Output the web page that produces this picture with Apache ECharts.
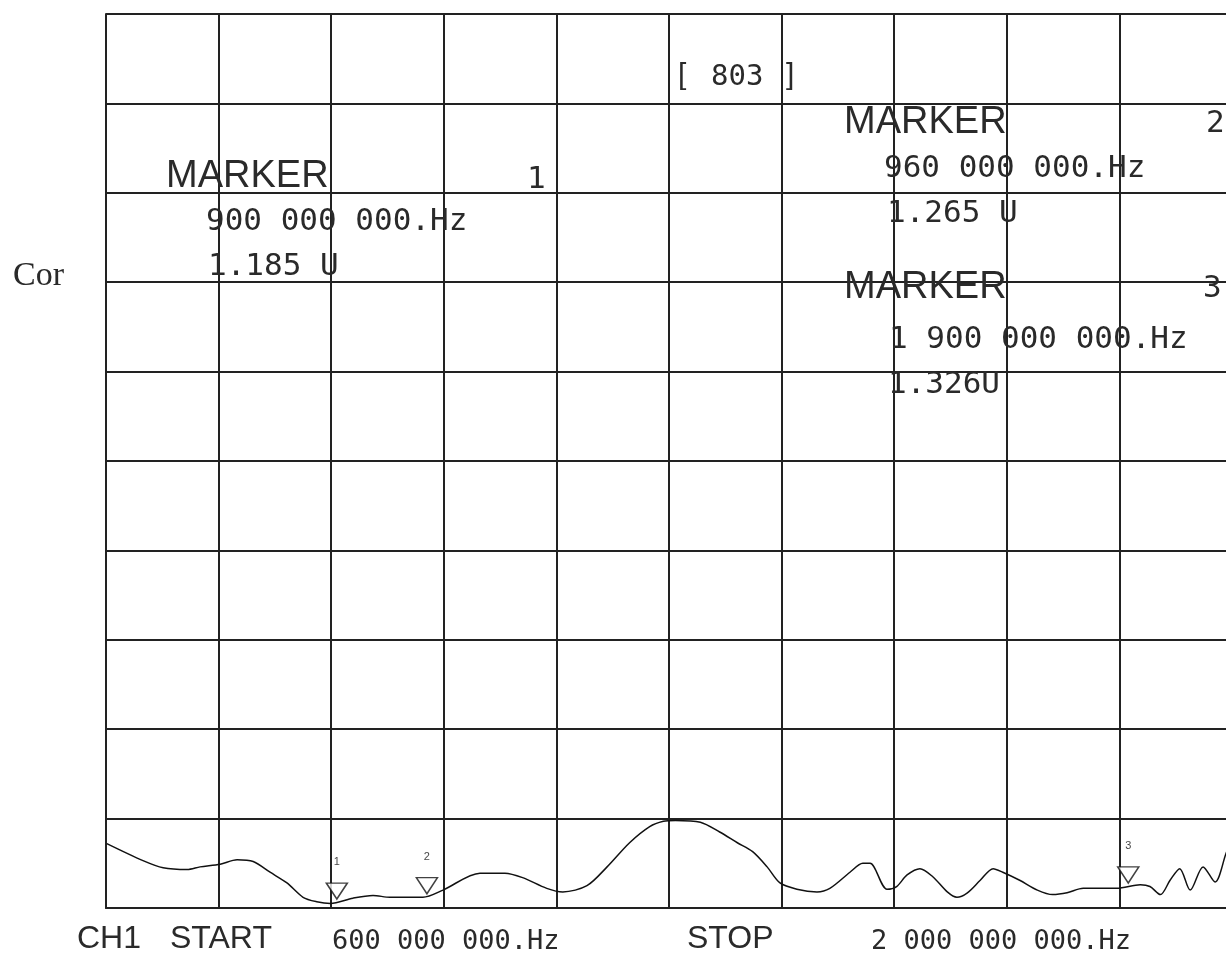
<!DOCTYPE html>
<html>
<head>
<meta charset="utf-8">
<script src="https://cdn.jsdelivr.net/npm/echarts@6/dist/echarts.min.js"></script>
<style>
  html, body { margin: 0; padding: 0; background: #fff; overflow: hidden; }
  /* the screen grid runs a few pixels past the right edge of the window */
  #main { width: 1240px; height: 955px; }
</style>
</head>
<body>
<div id="main"></div>
<script>
// frequency in MHz, trace level in grid divisions above the bottom line
var freqs = [601, 646, 671, 701, 717, 742, 763, 783, 804, 825, 845, 862, 879, 907, 932, 953,
    994, 1019, 1065, 1096, 1118, 1148, 1168, 1198, 1223, 1251, 1276, 1293, 1308, 1339, 1363,
    1385, 1404, 1422, 1438, 1459, 1484, 1500, 1525, 1541, 1550, 1571, 1583, 1596, 1612, 1628,
    1646, 1658, 1671, 1687, 1703, 1715, 1736, 1758, 1777, 1795, 1815, 1857, 1886, 1898, 1911,
    1923, 1935, 1948, 1964, 1979, 1993, 2000]
var levels = [0.72, 0.53, 0.45, 0.43, 0.46, 0.49, 0.54, 0.52, 0.40, 0.28, 0.12, 0.07, 0.05, 0.11, 0.14, 0.12,
    0.12, 0.20, 0.39, 0.39, 0.34, 0.22, 0.18, 0.25, 0.46, 0.73, 0.91, 0.97, 0.98, 0.96, 0.85,
    0.73, 0.63, 0.46, 0.28, 0.21, 0.18, 0.22, 0.40, 0.50, 0.50, 0.21, 0.24, 0.37, 0.44, 0.35,
    0.18, 0.12, 0.17, 0.31, 0.44, 0.40, 0.31, 0.20, 0.15, 0.17, 0.22, 0.22, 0.26, 0.24, 0.15,
    0.31, 0.44, 0.20, 0.46, 0.29, 0.62, 0.75]

// marker triangles, where they sit on the screen
var markerNames = ['1', '2', '3']
var markerFreqs = [887, 999, 1871]
var markerLevels = [0.10, 0.16, 0.28]

var traceData = []
for (var i = 0; i < freqs.length; i++) {
    traceData.push([freqs[i], levels[i]])
}
var markerData = []
for (var i = 0; i < markerFreqs.length; i++) {
    markerData.push({ value: [markerFreqs[i], markerLevels[i]], name: markerNames[i] })
}

var sans = '"Liberation Sans", Arial, sans-serif'
var mono = '"DejaVu Sans Mono", monospace'
var serif = '"Liberation Serif", serif'
var ink = '#2a2a2a'

// text placed by its left edge and vertical middle
function txt(x, y, s, size, family) {
    return {
        type: 'text', x: x, y: y, z: 10,
        style: {
            text: s, font: size + 'px ' + family, fill: ink,
            verticalAlign: 'middle', align: 'left'
        }
    }
}

var myChart = echarts.init(document.getElementById('main'))
var option = {
    backgroundColor: '#fff',
    animation: false,
    grid: { left: 106, top: 14, width: 1126, height: 894 },
    xAxis: {
        type: 'value', min: 600, max: 2000, interval: 140,
        axisLine: { show: true, lineStyle: { color: '#222', width: 2 } },
        axisTick: { show: false }, axisLabel: { show: false },
        splitLine: { show: true, lineStyle: { color: '#222', width: 2 } }
    },
    yAxis: {
        type: 'value', min: 0, max: 10, interval: 1,
        axisLine: { show: true, lineStyle: { color: '#222', width: 2 } },
        axisTick: { show: false }, axisLabel: { show: false },
        splitLine: { show: true, lineStyle: { color: '#222', width: 2 } }
    },
    series: [
        {
            type: 'line', data: traceData, smooth: 0.3, showSymbol: false,
            lineStyle: { color: '#111', width: 1.5 }
        },
        {
            type: 'scatter', data: markerData, symbol: 'triangle', symbolRotate: 180,
            symbolSize: [21, 16], symbolOffset: [0, -8],
            itemStyle: { color: '#fff', borderColor: '#111', borderWidth: 1.5 },
            label: {
                show: true, position: 'top', distance: 15, formatter: '{b}',
                fontSize: 11, color: '#111', fontFamily: sans
            },
            z: 5
        }
    ],
    graphic: [
        txt(678, 76, '[', 30, sans), txt(711, 77, '803', 29, mono), txt(786, 76, ']', 30, sans),
        txt(13, 276, 'Cor', 34, serif),
        txt(166, 177, 'MARKER', 38, sans), txt(527, 180, '1', 31, mono),
        txt(206, 222, '900 000 000.Hz', 31, mono),
        txt(208, 267, '1.185 U', 31, mono),
        txt(844, 123, 'MARKER', 38, sans), txt(1206, 124, '2', 31, mono),
        txt(884, 169, '960 000 000.Hz', 31, mono),
        txt(887, 214, '1.265 U', 31, mono),
        txt(844, 288, 'MARKER', 38, sans), txt(1203, 289, '3', 31, mono),
        txt(889, 340, '1 900 000 000.Hz', 31, mono),
        txt(888, 385, '1.326U', 31, mono),
        txt(77, 939, 'CH1', 32, sans), txt(170, 939, 'START', 32, sans),
        txt(332, 942, '600 000 000.Hz', 27, mono),
        txt(687, 939, 'STOP', 32, sans),
        txt(871, 942, '2 000 000 000.Hz', 27, mono)
    ]
}
myChart.setOption(option)
</script>
</body>
</html>
